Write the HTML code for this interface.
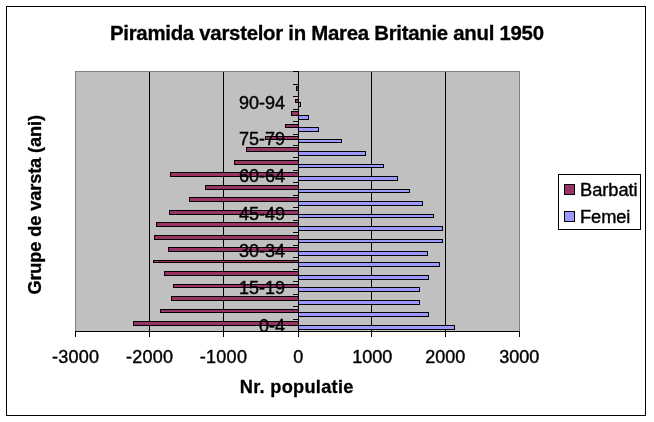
<!DOCTYPE html>
<html lang="ro"><head><meta charset="utf-8"><title>Piramida varstelor in Marea Britanie anul 1950</title>
<style>
html,body{margin:0;padding:0;background:#fff;}
svg{display:block;}
text{font-family:"Liberation Sans",Arial,sans-serif;fill:#000;stroke:#000;stroke-width:0.4px;}
.b{font-weight:bold;stroke-width:0.3px;}
</style></head><body>
<svg width="654" height="422" viewBox="0 0 654 422">
<rect x="0" y="0" width="654" height="422" fill="#fff"/>
<g shape-rendering="crispEdges">
<rect x="6.5" y="6.5" width="639" height="409" fill="#fff" stroke="#000" stroke-width="1"/>
<rect x="75.5" y="71.5" width="444" height="260" fill="#c0c0c0" stroke="#808080" stroke-width="1"/>
<rect x="149" y="72" width="1" height="259" fill="#000"/>
<rect x="223" y="72" width="1" height="259" fill="#000"/>
<rect x="371" y="72" width="1" height="259" fill="#000"/>
<rect x="445" y="72" width="1" height="259" fill="#000"/>
<rect x="133" y="321" width="166" height="5" fill="#000"/><rect x="134" y="322" width="164" height="3" fill="#993366"/>
<rect x="298" y="325" width="157" height="5" fill="#000"/><rect x="299" y="326" width="155" height="3" fill="#9999ff"/>
<rect x="160" y="309" width="139" height="4" fill="#000"/><rect x="161" y="310" width="137" height="2" fill="#993366"/>
<rect x="298" y="312" width="131" height="5" fill="#000"/><rect x="299" y="313" width="129" height="3" fill="#9999ff"/>
<rect x="171" y="296" width="128" height="5" fill="#000"/><rect x="172" y="297" width="126" height="3" fill="#993366"/>
<rect x="298" y="300" width="122" height="5" fill="#000"/><rect x="299" y="301" width="120" height="3" fill="#9999ff"/>
<rect x="173" y="284" width="126" height="4" fill="#000"/><rect x="174" y="285" width="124" height="2" fill="#993366"/>
<rect x="298" y="287" width="122" height="5" fill="#000"/><rect x="299" y="288" width="120" height="3" fill="#9999ff"/>
<rect x="164" y="271" width="135" height="5" fill="#000"/><rect x="165" y="272" width="133" height="3" fill="#993366"/>
<rect x="298" y="275" width="131" height="5" fill="#000"/><rect x="299" y="276" width="129" height="3" fill="#9999ff"/>
<rect x="153" y="260" width="146" height="3" fill="#000"/><rect x="154" y="261" width="144" height="1" fill="#993366"/>
<rect x="298" y="262" width="142" height="5" fill="#000"/><rect x="299" y="263" width="140" height="3" fill="#9999ff"/>
<rect x="168" y="247" width="131" height="5" fill="#000"/><rect x="169" y="248" width="129" height="3" fill="#993366"/>
<rect x="298" y="251" width="130" height="5" fill="#000"/><rect x="299" y="252" width="128" height="3" fill="#9999ff"/>
<rect x="154" y="235" width="145" height="5" fill="#000"/><rect x="155" y="236" width="143" height="3" fill="#993366"/>
<rect x="298" y="239" width="145" height="4" fill="#000"/><rect x="299" y="240" width="143" height="2" fill="#9999ff"/>
<rect x="156" y="222" width="143" height="5" fill="#000"/><rect x="157" y="223" width="141" height="3" fill="#993366"/>
<rect x="298" y="226" width="145" height="5" fill="#000"/><rect x="299" y="227" width="143" height="3" fill="#9999ff"/>
<rect x="169" y="210" width="130" height="5" fill="#000"/><rect x="170" y="211" width="128" height="3" fill="#993366"/>
<rect x="298" y="214" width="136" height="4" fill="#000"/><rect x="299" y="215" width="134" height="2" fill="#9999ff"/>
<rect x="189" y="197" width="110" height="5" fill="#000"/><rect x="190" y="198" width="108" height="3" fill="#993366"/>
<rect x="298" y="201" width="125" height="5" fill="#000"/><rect x="299" y="202" width="123" height="3" fill="#9999ff"/>
<rect x="205" y="185" width="94" height="5" fill="#000"/><rect x="206" y="186" width="92" height="3" fill="#993366"/>
<rect x="298" y="189" width="112" height="4" fill="#000"/><rect x="299" y="190" width="110" height="2" fill="#9999ff"/>
<rect x="170" y="172" width="129" height="5" fill="#000"/><rect x="171" y="173" width="127" height="3" fill="#993366"/>
<rect x="298" y="176" width="100" height="5" fill="#000"/><rect x="299" y="177" width="98" height="3" fill="#9999ff"/>
<rect x="234" y="160" width="65" height="5" fill="#000"/><rect x="235" y="161" width="63" height="3" fill="#993366"/>
<rect x="298" y="164" width="86" height="4" fill="#000"/><rect x="299" y="165" width="84" height="2" fill="#9999ff"/>
<rect x="246" y="147" width="53" height="5" fill="#000"/><rect x="247" y="148" width="51" height="3" fill="#993366"/>
<rect x="298" y="151" width="68" height="5" fill="#000"/><rect x="299" y="152" width="66" height="3" fill="#9999ff"/>
<rect x="265" y="136" width="34" height="4" fill="#000"/><rect x="266" y="137" width="32" height="2" fill="#993366"/>
<rect x="298" y="139" width="44" height="4" fill="#000"/><rect x="299" y="140" width="42" height="2" fill="#9999ff"/>
<rect x="285" y="124" width="14" height="4" fill="#000"/><rect x="286" y="125" width="12" height="2" fill="#993366"/>
<rect x="298" y="127" width="21" height="5" fill="#000"/><rect x="299" y="128" width="19" height="3" fill="#9999ff"/>
<rect x="291" y="111" width="8" height="5" fill="#000"/><rect x="292" y="112" width="6" height="3" fill="#993366"/>
<rect x="298" y="115" width="11" height="5" fill="#000"/><rect x="299" y="116" width="9" height="3" fill="#9999ff"/>
<rect x="295" y="99" width="4" height="4" fill="#000"/><rect x="296" y="100" width="2" height="2" fill="#993366"/>
<rect x="298" y="102" width="3" height="5" fill="#000"/><rect x="299" y="103" width="1" height="3" fill="#9999ff"/>
<rect x="296" y="86" width="3" height="5" fill="#000"/><rect x="297" y="87" width="1" height="3" fill="#993366"/>
<rect x="75" y="331" width="445" height="1" fill="#000"/>
<rect x="75" y="331" width="1" height="6" fill="#000"/><rect x="149" y="331" width="1" height="6" fill="#000"/><rect x="223" y="331" width="1" height="6" fill="#000"/><rect x="298" y="331" width="1" height="6" fill="#000"/><rect x="371" y="331" width="1" height="6" fill="#000"/><rect x="445" y="331" width="1" height="6" fill="#000"/><rect x="519" y="331" width="1" height="6" fill="#000"/>
<rect x="298" y="71" width="1" height="261" fill="#000"/>
<rect x="293" y="71" width="6" height="1" fill="#000"/><rect x="293" y="84" width="6" height="1" fill="#000"/><rect x="293" y="96" width="6" height="1" fill="#000"/><rect x="293" y="109" width="6" height="1" fill="#000"/><rect x="293" y="121" width="6" height="1" fill="#000"/><rect x="293" y="134" width="6" height="1" fill="#000"/><rect x="293" y="145" width="6" height="1" fill="#000"/><rect x="293" y="157" width="6" height="1" fill="#000"/><rect x="293" y="170" width="6" height="1" fill="#000"/><rect x="293" y="182" width="6" height="1" fill="#000"/><rect x="293" y="195" width="6" height="1" fill="#000"/><rect x="293" y="207" width="6" height="1" fill="#000"/><rect x="293" y="220" width="6" height="1" fill="#000"/><rect x="293" y="232" width="6" height="1" fill="#000"/><rect x="293" y="245" width="6" height="1" fill="#000"/><rect x="293" y="257" width="6" height="1" fill="#000"/><rect x="293" y="269" width="6" height="1" fill="#000"/><rect x="293" y="281" width="6" height="1" fill="#000"/><rect x="293" y="294" width="6" height="1" fill="#000"/><rect x="293" y="306" width="6" height="1" fill="#000"/><rect x="293" y="319" width="6" height="1" fill="#000"/><rect x="293" y="331" width="6" height="1" fill="#000"/>
<rect x="558.5" y="174.5" width="82" height="55" fill="#fff" stroke="#000" stroke-width="1"/>
<rect x="564.5" y="184.5" width="10" height="10" fill="#993366" stroke="#000" stroke-width="1"/>
<rect x="564.5" y="211.5" width="10" height="10" fill="#9999ff" stroke="#000" stroke-width="1"/>
</g>
<text class="b" x="110" y="40.3" font-size="20.4" textLength="434" lengthAdjust="spacing">Piramida varstelor in Marea Britanie anul 1950</text>
<text x="75.5" y="363" font-size="18" text-anchor="middle" textLength="47.2" lengthAdjust="spacing">-3000</text><text x="149.5" y="363" font-size="18" text-anchor="middle" textLength="47.2" lengthAdjust="spacing">-2000</text><text x="223.3" y="363" font-size="18" text-anchor="middle" textLength="47.2" lengthAdjust="spacing">-1000</text><text x="298.2" y="363" font-size="18" text-anchor="middle">0</text><text x="372.2" y="363" font-size="18" text-anchor="middle">1000</text><text x="445.2" y="363" font-size="18" text-anchor="middle">2000</text><text x="519.2" y="363" font-size="18" text-anchor="middle">3000</text>
<text class="b" x="239.8" y="392.7" font-size="18.2" textLength="113.6" lengthAdjust="spacing">Nr. populatie</text>
<text class="b" transform="translate(41 294.6) rotate(-90)" font-size="18.2" textLength="179.6" lengthAdjust="spacing">Grupe de varsta (ani)</text>
<clipPath id="pc"><rect x="76" y="72" width="443" height="259"/></clipPath>
<g clip-path="url(#pc)"><text x="285.1" y="332.0" font-size="18" text-anchor="end">0-4</text><text x="285.1" y="293.7" font-size="18" text-anchor="end">15-19</text><text x="285.1" y="257.1" font-size="18" text-anchor="end">30-34</text><text x="285.1" y="220.4" font-size="18" text-anchor="end">45-49</text><text x="285.1" y="182.4" font-size="18" text-anchor="end">60-64</text><text x="285.1" y="145.3" font-size="18" text-anchor="end">75-79</text><text x="285.1" y="108.5" font-size="18" text-anchor="end">90-94</text></g>
<text x="580" y="195.6" font-size="18.3" textLength="57.6" lengthAdjust="spacing">Barbati</text>
<text x="580" y="222.6" font-size="18.3" textLength="50.4" lengthAdjust="spacing">Femei</text>
</svg>
</body></html>
